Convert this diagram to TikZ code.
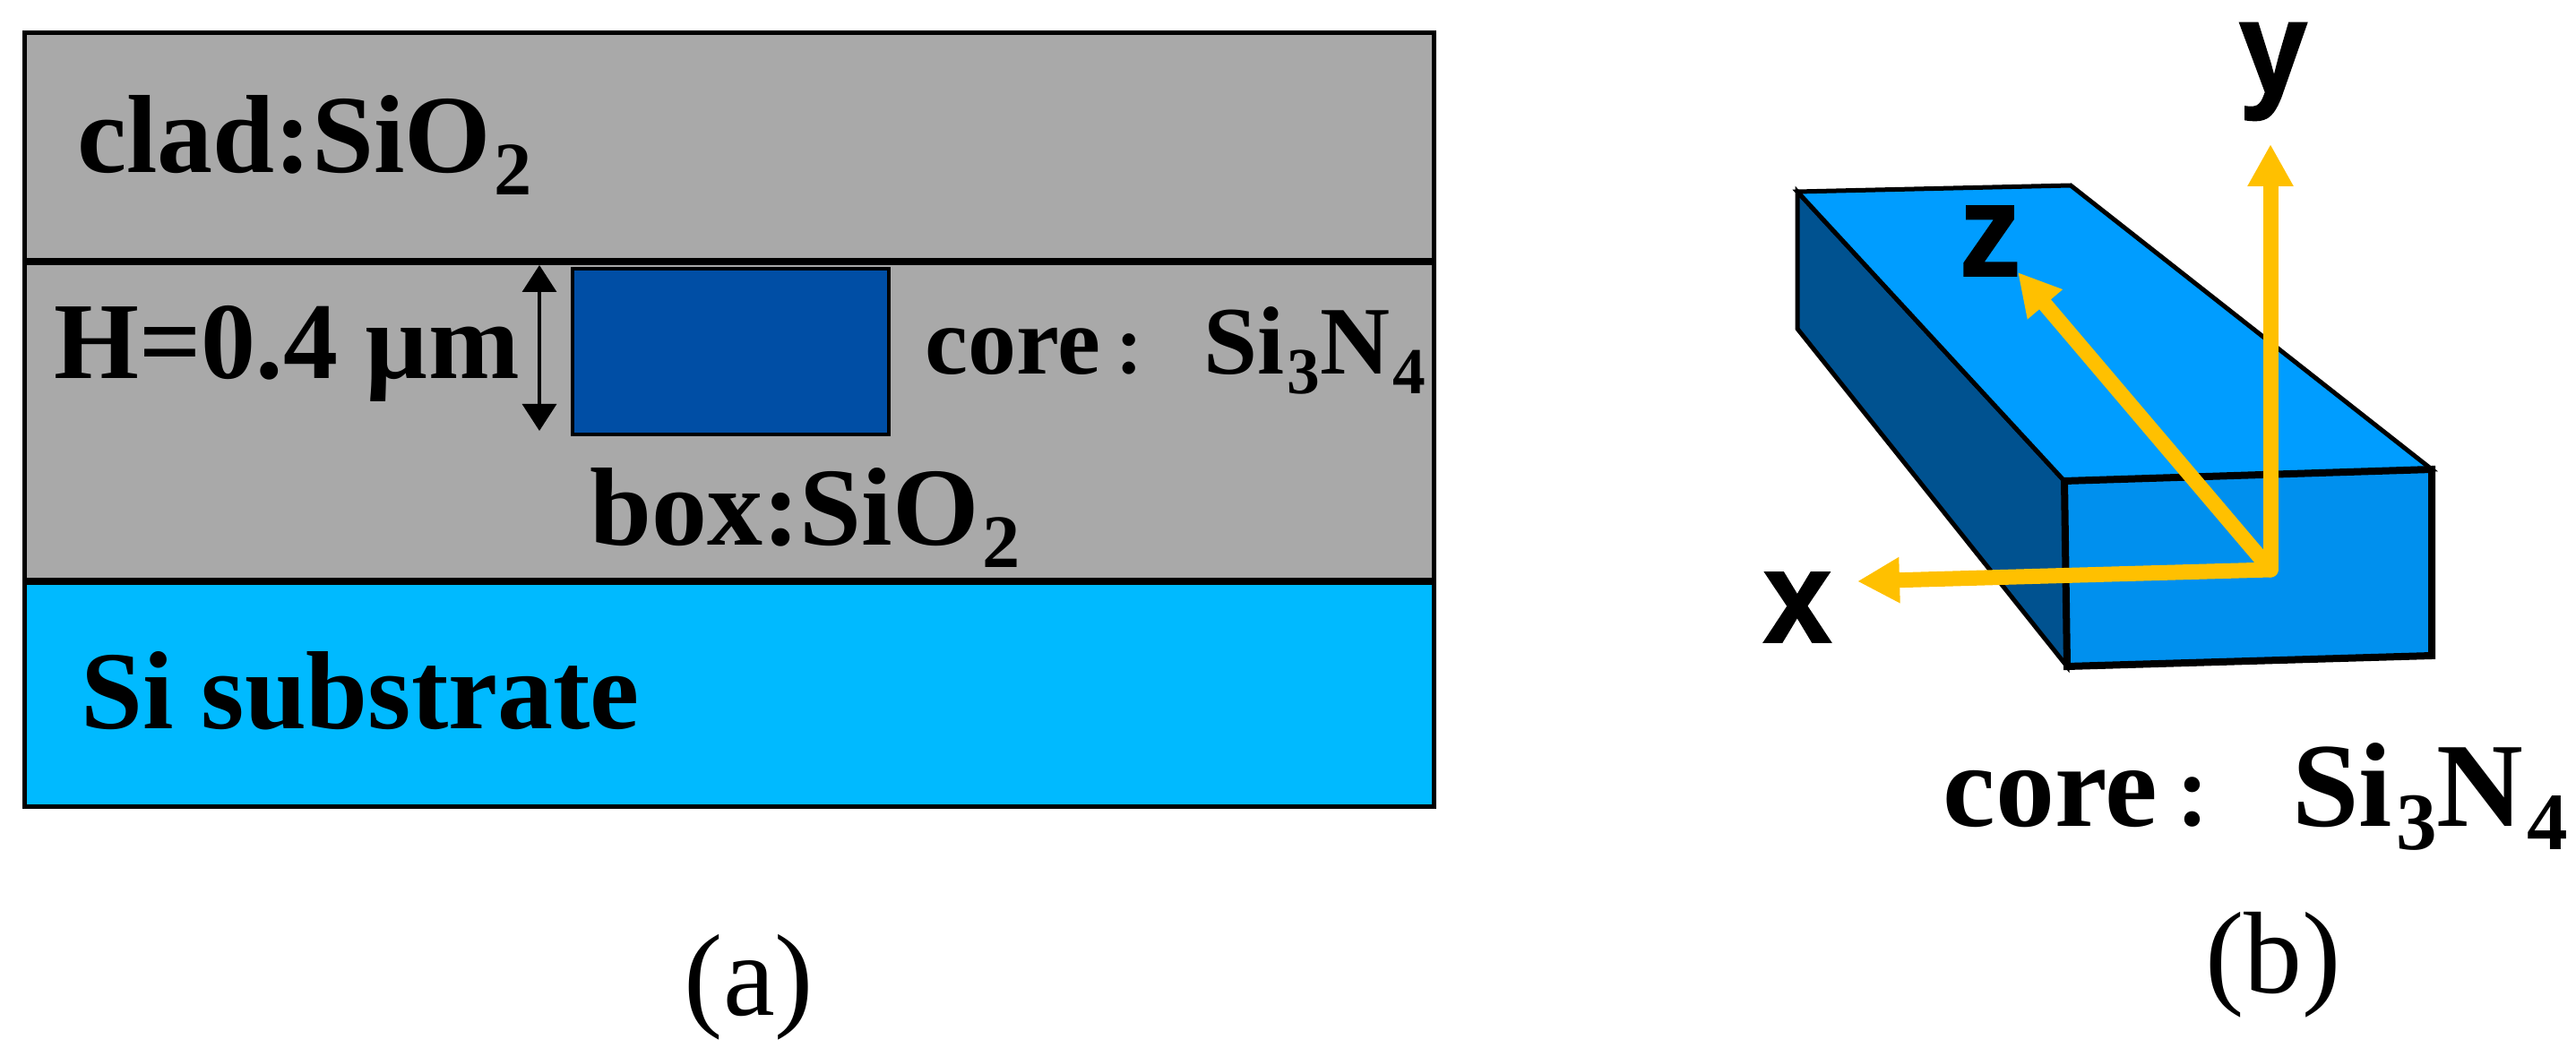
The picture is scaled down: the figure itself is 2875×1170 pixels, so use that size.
\documentclass[tikz,border=0pt]{standalone}
\usepackage{fontspec}
\setmainfont{Liberation Serif}
\newfontfamily\axisfont[BoldFeatures={FakeBold=1.2}]{Liberation Sans}
\newfontfamily\cjk{Noto Sans CJK SC}
\usetikzlibrary{arrows.meta}
\newcommand\lowsub[1]{\kern.03em\raisebox{-.2em}{\scalebox{.68}{#1}}}
\newcommand\widecolon{\hspace{.14em}\scalebox{.62}{\cjk\bfseries：}}
\newcommand\fs[1]{\fontsize{#1}{#1}\selectfont}
\definecolor{cladgray}{HTML}{A9A9A9}
\definecolor{subblue}{HTML}{00BAFF}
\definecolor{coreblue}{HTML}{004EA5}
\definecolor{topblue}{HTML}{009DFF}
\definecolor{frontblue}{HTML}{0090EE}
\definecolor{sideblue}{HTML}{005290}
\definecolor{axisyellow}{HTML}{FFC000}
\tikzset{
  x=0.5pt,y=-0.5pt,
  rule/.style={draw=black,line width=4pt},
  layer/.style={draw=none},
  label/.style={anchor=base west,inner sep=0pt,font=\bfseries\fs{62}},
  caption/.style={anchor=base,inner sep=0pt,font=\fs{65}},
  axis/.style={draw=axisyellow,line width=8.5pt,line cap=round,-{Triangle[length=23.5pt,width=24pt]}},
  axislabel/.style={anchor=center,inner sep=0pt,font=\axisfont\bfseries\fs{74}},
  face/.style={draw=black,line width=2.5pt,line join=miter},
  dim/.style={draw=black,line width=1.7pt,{Triangle[length=15pt,width=19pt]}-{Triangle[length=15pt,width=19pt]}}
}
\begin{document}
\begin{tikzpicture}
\useasboundingbox (0,0) rectangle (2875,1170);
% panel (a)
\path[layer,fill=cladgray] (27,37) rectangle (1600,649);
\path[layer,fill=subblue] (27,649) rectangle (1600,900);
\draw[black,line width=2.5pt] (27,37) rectangle (1600,900);
\draw[rule] (27,292) -- (1600,292);
\draw[rule] (27,649) -- (1600,649);
\path[draw=black,line width=2pt,fill=coreblue] (639,300) rectangle (992,485);
\coordinate (dimtop) at (602,296);
\coordinate (dimbot) at (602,481);
\draw[dim] (dimtop) -- (dimbot);
\node[label] (clad) at (86,193) {clad:SiO\lowsub{2}};
\node[label,font=\bfseries\fs{61}] (height) at (60,423) {H=0.4 µm};
\node[label,font=\bfseries\fs{54}] (corea) at (1032,418) {core\widecolon};
\node[label,font=\bfseries\fs{54}] (coreb) at (1343,418) {Si\lowsub{3}N\lowsub{4}};
\node[label] (boxlabel) at (658,609) {box:SiO\lowsub{2}};
\node[label] (sub) at (90,813) {Si substrate};
\node[caption] (capa) at (836,1133) {(a)};
% panel (b)
\coordinate (A) at (2006,214);
\coordinate (B) at (2311,207);
\coordinate (C) at (2714,524);
\coordinate (D) at (2304,537);
\coordinate (E) at (2307,744);
\coordinate (F) at (2714,732);
\coordinate (G) at (2006,367);
\path[face,fill=sideblue] (A) -- (D) -- (E) -- (G) -- cycle;
\path[face,fill=topblue] (A) -- (B) -- (C) -- (D) -- cycle;
\path[face,fill=frontblue,line width=4pt] (D) -- (C) -- (F) -- (E) -- cycle;
\coordinate (O) at (2534,636);
\coordinate (Y) at (2534,161);
\coordinate (Z) at (2252,304);
\coordinate (X) at (2073,649);
\draw[axis] (O) -- (Y);
\draw[axis] (O) -- (Z);
\draw[axis] (O) -- (X);
\node[axislabel] (ylab) at (2537,80) {\scalebox{.93}[1]{y}};
\node[axislabel] (zlab) at (2221,269) {\scalebox{.93}[1]{z}};
\node[axislabel] (xlab) at (2006,678) {\scalebox{.93}[1]{x}};
\node[label,font=\bfseries\fs{66}] (core2a) at (2168,922) {core\widecolon};
\node[label,font=\bfseries\fs{67}] (core2b) at (2558,922) {Si\lowsub{3}N\lowsub{4}};
\node[caption] (capb) at (2537,1108) {(b)};
\end{tikzpicture}
\end{document}
